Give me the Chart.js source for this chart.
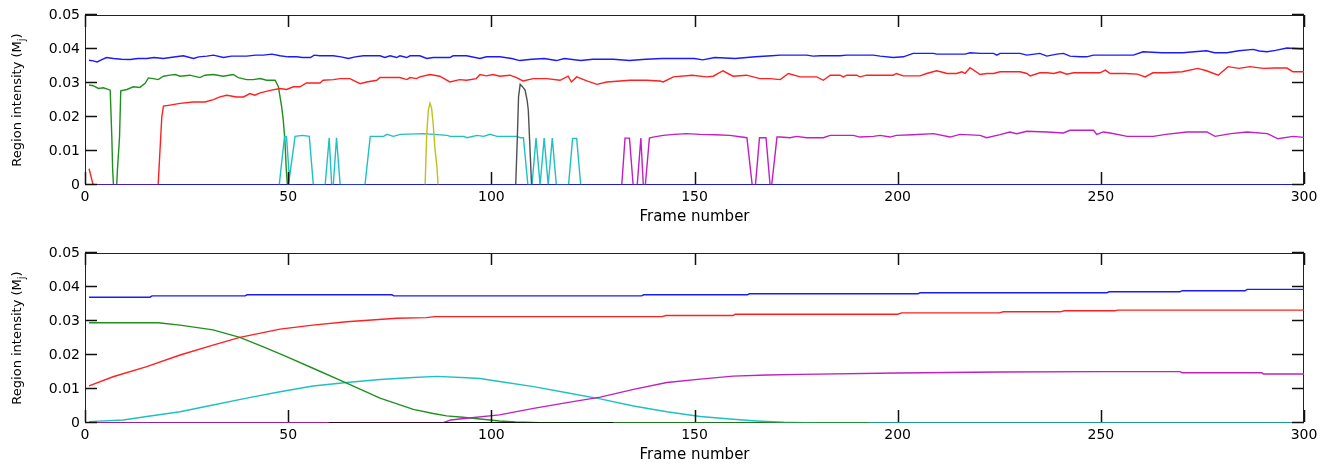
<!DOCTYPE html>
<html>
<head>
<meta charset="utf-8">
<script src="https://cdn.jsdelivr.net/npm/chart.js@4.4.7/dist/chart.umd.min.js"></script>
<style>
  html, body { margin: 0; padding: 0; background: #fff; }
  #wrap { position: relative; width: 1331px; height: 464px; }
  .panel { position: absolute; left: 0; width: 1331px; height: 232px; }
</style>
</head>
<body>
<div id="wrap">
  <div class="panel" style="top:0"><canvas id="topChart" width="1331" height="232"></canvas></div>
  <div class="panel" style="top:232px"><canvas id="bottomChart" width="1331" height="232"></canvas></div>
</div>
<script>
// axis ticks
const xTicks = [0, 50, 100, 150, 200, 250, 300];
const xTickLabels = ['0', '50', '100', '150', '200', '250', '300'];
const yTicks = [0, 0.01, 0.02, 0.03, 0.04, 0.05];
const yTickLabels = ['0', '0.01', '0.02', '0.03', '0.04', '0.05'];

// top panel: [frame, intensity]
const topBlue = [[1,0.0367],[2,0.0365],[3,0.0362],[4,0.0368],[5.3,0.0375],[7,0.0372],[9,0.037],[11.1,0.0369],[13,0.0372],[15.2,0.0372],[17,0.0375],[19.3,0.0372],[21,0.0375],[24.2,0.038],[26.7,0.0372],[28,0.0377],[30,0.0379],[31.6,0.0382],[34.1,0.0375],[36,0.0379],[39.8,0.0379],[42,0.0382],[43.9,0.0382],[46,0.0385],[48,0.038],[50,0.0377],[52.1,0.0377],[53.5,0.0375],[55.5,0.0375],[56.4,0.0382],[57.8,0.038],[61.1,0.038],[63,0.0377],[64.8,0.0372],[66.5,0.0377],[68.5,0.038],[72.6,0.038],[73.8,0.0375],[75.1,0.038],[76.7,0.0375],[77.5,0.038],[79.2,0.0375],[80,0.038],[82.4,0.038],[84.1,0.0372],[85.7,0.0375],[89.8,0.0375],[90.6,0.038],[93.9,0.038],[97.2,0.0372],[98.8,0.0377],[102.1,0.0377],[105,0.0372],[107,0.0366],[110,0.037],[113,0.0372],[116,0.0366],[118,0.0372],[122,0.0366],[125,0.037],[130,0.037],[134,0.0366],[138,0.037],[142,0.0372],[145,0.0372],[150,0.0372],[152,0.0368],[155,0.0375],[160,0.0372],[165,0.0377],[169,0.038],[171.1,0.0382],[177.6,0.0382],[179.2,0.0379],[181,0.038],[185.8,0.038],[187.5,0.0382],[194,0.0382],[195.7,0.0379],[198.9,0.0375],[201.4,0.0377],[203.8,0.0387],[208.8,0.0387],[209.6,0.0385],[216.6,0.0385],[217.8,0.0389],[220.3,0.0387],[223.6,0.0387],[224.4,0.0382],[225.2,0.0387],[230.1,0.0387],[231.8,0.0382],[235,0.0387],[236.7,0.0379],[239.2,0.0385],[240.8,0.0387],[242.4,0.0379],[244.9,0.0377],[246.5,0.0377],[248.2,0.0382],[252.3,0.0382],[258,0.0382],[260.4,0.0392],[265,0.0389],[270.2,0.0389],[273,0.0392],[276,0.0395],[278,0.0389],[281,0.0389],[284,0.0395],[287.5,0.0399],[289,0.0394],[290.9,0.0392],[293,0.0396],[295.8,0.0403],[300,0.04]];
const topRed = [[1,0.0048],[2,0],[18,0],[18.5,0.0112],[18.9,0.02],[19.3,0.0232],[20.9,0.0235],[23.4,0.024],[26.7,0.0244],[29.5,0.0244],[31.6,0.0251],[33.2,0.0259],[34.9,0.0264],[37.3,0.0259],[39,0.0259],[40.6,0.0269],[41.8,0.0264],[43.1,0.0271],[45.9,0.0279],[48,0.0284],[49.6,0.0281],[51.3,0.0289],[52.9,0.0289],[54.5,0.03],[57.8,0.03],[58.6,0.0308],[61.1,0.031],[62.8,0.0313],[65.2,0.0313],[67.7,0.0298],[69.3,0.0303],[71.8,0.0308],[72.6,0.0316],[77.5,0.0316],[79.2,0.031],[80,0.0316],[81.6,0.0313],[82.4,0.0318],[84.9,0.0325],[87.3,0.032],[89.8,0.0303],[92.2,0.031],[93.9,0.0308],[96.3,0.0313],[97.2,0.0325],[98.8,0.0321],[100.4,0.0325],[102.1,0.032],[104.6,0.0323],[106.2,0.0316],[107.8,0.0306],[110.3,0.0313],[113.6,0.0313],[116.9,0.0308],[118.9,0.032],[119.7,0.0303],[121,0.0318],[123.5,0.0306],[126,0.0296],[128.4,0.0303],[131.7,0.0306],[134.1,0.0308],[138.2,0.0308],[141.5,0.0306],[142.3,0.0303],[144.8,0.0318],[149.4,0.0323],[153,0.0318],[154.6,0.032],[157,0.0336],[159.5,0.032],[162.8,0.0323],[166.1,0.0313],[168.6,0.0313],[171.1,0.031],[173.1,0.0328],[176,0.0318],[180.1,0.0318],[181.7,0.0308],[183.4,0.0323],[185.8,0.0323],[186.6,0.0318],[187.5,0.0323],[189.9,0.0323],[190.7,0.0318],[192.4,0.0323],[198.9,0.0323],[199.7,0.0328],[201.4,0.0321],[205.5,0.0321],[207.1,0.0328],[209.6,0.0336],[211.3,0.0331],[212.1,0.0328],[214.5,0.0328],[215.8,0.0333],[216.6,0.0328],[217.8,0.0345],[220.3,0.0325],[221.9,0.0328],[223.6,0.0328],[225.2,0.0333],[230.1,0.0333],[231.8,0.0328],[232.6,0.0321],[235,0.033],[236.7,0.033],[238.4,0.0328],[240,0.0333],[241.6,0.0326],[243.3,0.033],[249.8,0.033],[251.1,0.0338],[252.3,0.0328],[256,0.0328],[259,0.0326],[260.9,0.0318],[262.8,0.033],[266,0.033],[270,0.0333],[273.9,0.0343],[276,0.0336],[278.9,0.0323],[281.3,0.0348],[284,0.0343],[286.7,0.0348],[290,0.0343],[293,0.0344],[295.8,0.0344],[297.3,0.0333],[300,0.0333]];
const topGreen = [[1,0.0294],[2,0.0292],[3.3,0.0284],[4.5,0.0286],[5.7,0.0281],[6.2,0.0279],[6.6,0.0141],[6.8,0.0048],[7,0],[7.8,0],[8,0.0048],[8.5,0.0141],[8.8,0.0277],[10.3,0.0281],[11.9,0.0289],[13.5,0.0287],[14.8,0.0299],[15.6,0.0315],[16.8,0.0313],[18,0.031],[19.3,0.032],[20.9,0.0323],[22.2,0.0325],[23.4,0.032],[25.8,0.0323],[28.3,0.0316],[29.5,0.0323],[31.6,0.0325],[34,0.032],[36.5,0.0325],[37.7,0.0316],[39.8,0.031],[41.4,0.031],[43.1,0.0313],[44.7,0.0308],[46.8,0.0308],[47.6,0.0289],[48,0.0259],[48.4,0.023],[48.8,0.019],[49.2,0.0131],[49.5,0.0053],[49.8,0],[52,0]];
const topCyan = [[47.8,0],[49.1,0.0142],[49.6,0.0142],[50.3,0.002],[51.7,0.0143],[53.5,0.0146],[55.2,0.0143],[56.2,0],[59.1,0],[60.1,0.0139],[60.7,0],[61.1,0],[61.9,0.0139],[62.8,0],[68.9,0],[70.2,0.0143],[73.5,0.0143],[74.3,0.0149],[75.1,0.0146],[75.9,0.0143],[77.6,0.0149],[83.3,0.0151],[89.1,0.0146],[89.9,0.0143],[93.2,0.0143],[94,0.0139],[96.5,0.0146],[98.1,0.0143],[99.7,0.0149],[101.4,0.0143],[106.3,0.0143],[107.1,0.0139],[107.9,0.0139],[109,0],[110,0],[111,0.0138],[112,0],[113,0.0138],[114,0],[115,0.0138],[116,0],[119,0],[120,0.0137],[121,0.0137],[122,0]];
const topMagenta = [[132.1,0],[132.9,0.0138],[134,0.0138],[134.9,0],[135.9,0],[136.8,0.0138],[137.4,0],[137.9,0],[138.9,0.0138],[139.8,0.0141],[142.3,0.0146],[145,0.0149],[148,0.0151],[151.4,0.0149],[155,0.0148],[158.7,0.0146],[162.9,0.0139],[164.2,0],[165,0],[166,0.0139],[167.6,0.0139],[168.6,0],[169,0],[170.3,0.0141],[171.1,0.0141],[173.5,0.0139],[175.1,0.0143],[177.6,0.0139],[181.7,0.0139],[183.4,0.0146],[189.1,0.0146],[190.7,0.0141],[194,0.0143],[195.7,0.0146],[198.1,0.0141],[199.7,0.0146],[203.8,0.0148],[208.8,0.0151],[212.9,0.0141],[215.3,0.0149],[220.3,0.0146],[221.9,0.0139],[225.2,0.0148],[227.6,0.0156],[229.3,0.0151],[231.8,0.0158],[236.7,0.0156],[240.8,0.0153],[242.4,0.0161],[248.2,0.0161],[249,0.0149],[250.6,0.0156],[252.3,0.0153],[256.5,0.0143],[262.9,0.0143],[266,0.0149],[271.2,0.0156],[276.1,0.0156],[278.1,0.0143],[282,0.0151],[286,0.0156],[291,0.0151],[293.6,0.0136],[297.3,0.0143],[300,0.014]];
const topYellow = [[83.7,0],[84.1,0.0151],[84.5,0.022],[84.9,0.0241],[85.3,0.0226],[85.7,0.0178],[86.1,0.011],[86.6,0.0055],[86.9,0]];
const topGray = [[106,0],[106.4,0.014],[106.7,0.026],[107.1,0.0296],[107.6,0.029],[108.3,0.0279],[108.8,0.025],[109.1,0.022],[109.5,0.011],[109.9,0]];
const topZero = [[1,0],[300,0]];

// bottom panel: [frame, intensity]
const botBlue = [[1,0.037],[16,0.037],[16.5,0.0374],[39.4,0.0374],[39.9,0.0377],[75.5,0.0377],[76,0.0374],[137,0.0374],[137.5,0.0377],[163,0.0377],[163.5,0.038],[205,0.038],[205.5,0.0383],[251.5,0.0383],[252,0.0386],[269.5,0.0386],[270,0.0389],[285.5,0.0389],[286,0.0393],[300,0.0393]];
const botRed = [[1,0.0109],[6.9,0.0136],[15.2,0.0166],[23.4,0.02],[31.5,0.0229],[38.1,0.0252],[48,0.0276],[56.1,0.0288],[64.4,0.0298],[76.7,0.0308],[84,0.031],[86,0.0313],[142,0.0313],[143,0.0316],[159.5,0.0316],[160,0.032],[200,0.032],[201,0.0324],[225,0.0324],[226,0.0327],[240,0.0327],[241,0.033],[253.5,0.033],[254,0.0332],[300,0.0332]];
const botGreen = [[1,0.0295],[18,0.0295],[23.4,0.0288],[31.5,0.0274],[38.1,0.0252],[43.9,0.0224],[49.6,0.0195],[56.1,0.0161],[64.4,0.0117],[72.6,0.0073],[80.8,0.004],[85.7,0.0028],[89,0.0021],[93,0.0017],[99.7,0.0009],[102,0.0006],[106,0.0003],[112,0.0001],[120,0],[193,0]];
const botCyan = [[1,0.0004],[9.4,0.0009],[15.2,0.0019],[23.4,0.0033],[31.5,0.0053],[39.8,0.0073],[48,0.0092],[56.1,0.0109],[64.4,0.0119],[72.6,0.0128],[80.8,0.0134],[86.6,0.0137],[93.9,0.0133],[97.2,0.0131],[102,0.0122],[110.4,0.0107],[118.6,0.0089],[126.8,0.0071],[135,0.005],[143.2,0.0033],[151.4,0.0019],[159.5,0.0011],[165.3,0.0006],[172,0.0002],[180,0],[300,0]];
const botMagenta = [[1,0],[88,0],[90,0.0009],[93.9,0.0014],[102,0.0024],[110.4,0.0043],[118.6,0.006],[126.8,0.0076],[135,0.0099],[143.2,0.0119],[151.4,0.0129],[159.5,0.0138],[167.8,0.0141],[176,0.0143],[200,0.0147],[225,0.015],[250,0.0151],[269.5,0.0151],[270,0.0148],[289.6,0.0148],[290,0.0144],[300,0.0144]];
const botBlack = [[60,0],[130,0]];

const COLORS = {
  blue: '#1a1aff', green: '#1f8f1f', red: '#ff2020', cyan: '#20c0c0',
  magenta: '#c020c0', yellow: '#c0c020', gray: '#505050', black: '#000000'
};

const TICK_LEN = 12;
const AXIS_COLOR = '#222222';

// MATLAB-like box, inward ticks and axis titles
const matlabAxes = {
  id: 'matlabAxes',
  beforeDatasetsDraw(chart) {
    const { ctx, chartArea: a } = chart;
    ctx.save();
    ctx.strokeStyle = AXIS_COLOR;
    ctx.lineWidth = 1;
    ctx.strokeRect(a.left + 0.5, a.top + 0.5, a.right - a.left - 1, a.bottom - a.top - 1);
    ctx.restore();
  },
  afterDraw(chart) {
    const { ctx, chartArea: a } = chart;
    const xs = chart.scales.x, ys = chart.scales.y;
    ctx.save();
    ctx.strokeStyle = '#111';
    ctx.lineWidth = 1.5;
    ctx.beginPath();
    for (const v of xTicks) {
      const px = Math.round(xs.getPixelForValue(v)) + 0.5;
      ctx.moveTo(px, a.bottom - 1);
      ctx.lineTo(px, a.bottom - 1 - TICK_LEN);
      ctx.moveTo(px, a.top);
      ctx.lineTo(px, a.top + TICK_LEN);
    }
    for (const v of yTicks) {
      const py = Math.round(ys.getPixelForValue(v)) - 0.5;
      ctx.moveTo(a.left, py);
      ctx.lineTo(a.left + TICK_LEN, py);
      ctx.moveTo(a.right, py);
      ctx.lineTo(a.right - TICK_LEN, py);
    }
    ctx.stroke();
    ctx.restore();

    ctx.save();
    ctx.fillStyle = '#000';
    ctx.font = '15px "DejaVu Sans"';
    ctx.textAlign = 'center';
    ctx.textBaseline = 'middle';
    ctx.fillText('Frame number', (a.left + a.right) / 2, a.bottom + 32);

    ctx.translate(18, (a.top + a.bottom) / 2);
    ctx.rotate(-Math.PI / 2);
    ctx.textAlign = 'left';
    const main = 'Region intensity (M', sub = 'j', close = ')';
    ctx.font = '13px "DejaVu Sans"';
    const w1 = ctx.measureText(main).width, w3 = ctx.measureText(close).width;
    ctx.font = '10px "DejaVu Sans"';
    const w2 = ctx.measureText(sub).width;
    const x0 = -(w1 + w2 + w3) / 2;
    ctx.font = '13px "DejaVu Sans"';
    ctx.fillText(main, x0, 0);
    ctx.font = '10px "DejaVu Sans"';
    ctx.fillText(sub, x0 + w1, 4);
    ctx.font = '13px "DejaVu Sans"';
    ctx.fillText(close, x0 + w1 + w2, 0);
    ctx.restore();
  }
};

function makeChart(id, series, padTop, xHeight) {
  return new Chart(document.getElementById(id), {
    type: 'line',
    data: {
      datasets: series.map(s => ({
        data: s.points.map(([x, y]) => ({ x, y })),
        borderColor: s.color,
        borderWidth: 1.4,
        pointRadius: 0,
        tension: 0,
        fill: false
      }))
    },
    options: {
      responsive: false,
      animation: false,
      events: [],
      layout: { padding: { left: 0, right: 27, top: padTop, bottom: 0 } },
      plugins: { legend: { display: false }, tooltip: { enabled: false } },
      scales: {
        x: {
          type: 'linear', min: 0, max: 300,
          afterBuildTicks: s => { s.ticks = xTicks.map(v => ({ value: v })); },
          afterFit: s => { s.height = xHeight; },
          grid: { display: false, drawTicks: false },
          border: { display: false },
          ticks: {
            padding: 4, maxRotation: 0, autoSkip: false, color: '#000',
            font: { family: 'DejaVu Sans', size: 14 },
            callback: (v, i) => xTickLabels[i]
          }
        },
        y: {
          type: 'linear', min: 0, max: 0.05,
          afterBuildTicks: s => { s.ticks = yTicks.map(v => ({ value: v })); },
          afterFit: s => { s.width = 85; },
          grid: { display: false, drawTicks: false },
          border: { display: false },
          ticks: {
            padding: 5, autoSkip: false, color: '#000',
            font: { family: 'DejaVu Sans', size: 14 },
            callback: (v, i) => yTickLabels[i]
          }
        }
      }
    },
    plugins: [matlabAxes]
  });
}

// first dataset is drawn on top
makeChart('topChart', [
  { points: topZero, color: COLORS.blue },
  { points: topGray, color: COLORS.gray },
  { points: topYellow, color: COLORS.yellow },
  { points: topMagenta, color: COLORS.magenta },
  { points: topCyan, color: COLORS.cyan },
  { points: topRed, color: COLORS.red },
  { points: topGreen, color: COLORS.green },
  { points: topBlue, color: COLORS.blue }
], 15, 47);

makeChart('bottomChart', [
  { points: botBlack, color: COLORS.black },
  { points: botMagenta, color: COLORS.magenta },
  { points: botGreen, color: COLORS.green },
  { points: botCyan, color: COLORS.cyan },
  { points: botRed, color: COLORS.red },
  { points: botBlue, color: COLORS.blue }
], 21, 41);
</script>
</body>
</html>
